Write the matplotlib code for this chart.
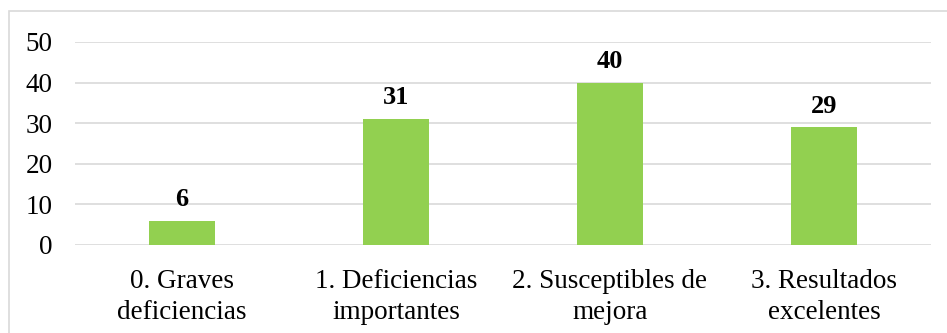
import matplotlib
matplotlib.use("Agg")
import matplotlib.pyplot as plt
from matplotlib.patches import Rectangle

categories = ["0. Graves\ndeficiencias", "1. Deficiencias\nimportantes",
              "2. Susceptibles de\nmejora", "3. Resultados\nexcelentes"]
values = [6, 31, 40, 29]
yticks = [0, 10, 20, 30, 40, 50]

plt.rcParams["font.family"] = ["Liberation Serif", "DejaVu Serif"]

W, H = 947, 333
fig = plt.figure(figsize=(W / 100, H / 100), dpi=100)

# outer chart frame
fig.patches.append(Rectangle((9 / W, -0.05), 1.0, 1 - 11 / H + 0.05,
                             transform=fig.transFigure, fill=False,
                             edgecolor="#d9d9d9", linewidth=1.2))

ax = fig.add_axes([75 / W, 1 - 245 / H, (931 - 75) / W, (245 - 42) / H])
x = range(len(categories))
bars = ax.bar(x, values, width=0.31, color="#92d050", zorder=3)

ax.set_xlim(-0.5, len(categories) - 0.5)
ax.set_ylim(0, 50)
ax.set_yticks(yticks)
ax.set_yticklabels([str(t) for t in yticks], fontsize=19.5)
ax.set_xticks(list(x))
ax.set_xticklabels(categories, fontsize=19.5, linespacing=1.35)
ax.tick_params(axis="both", length=0)
ax.tick_params(axis="y", pad=16)
ax.tick_params(axis="x", pad=17)
ax.grid(axis="y", color="#d9d9d9", linewidth=1.2, zorder=0)
for s in ax.spines.values():
    s.set_visible(False)

for xi, v in zip(x, values):
    ax.annotate(str(v), (xi, v), xytext=(0, 7), textcoords="offset points",
                ha="center", va="bottom", fontsize=19, fontweight="bold")

fig.savefig("out.png", dpi=100)
